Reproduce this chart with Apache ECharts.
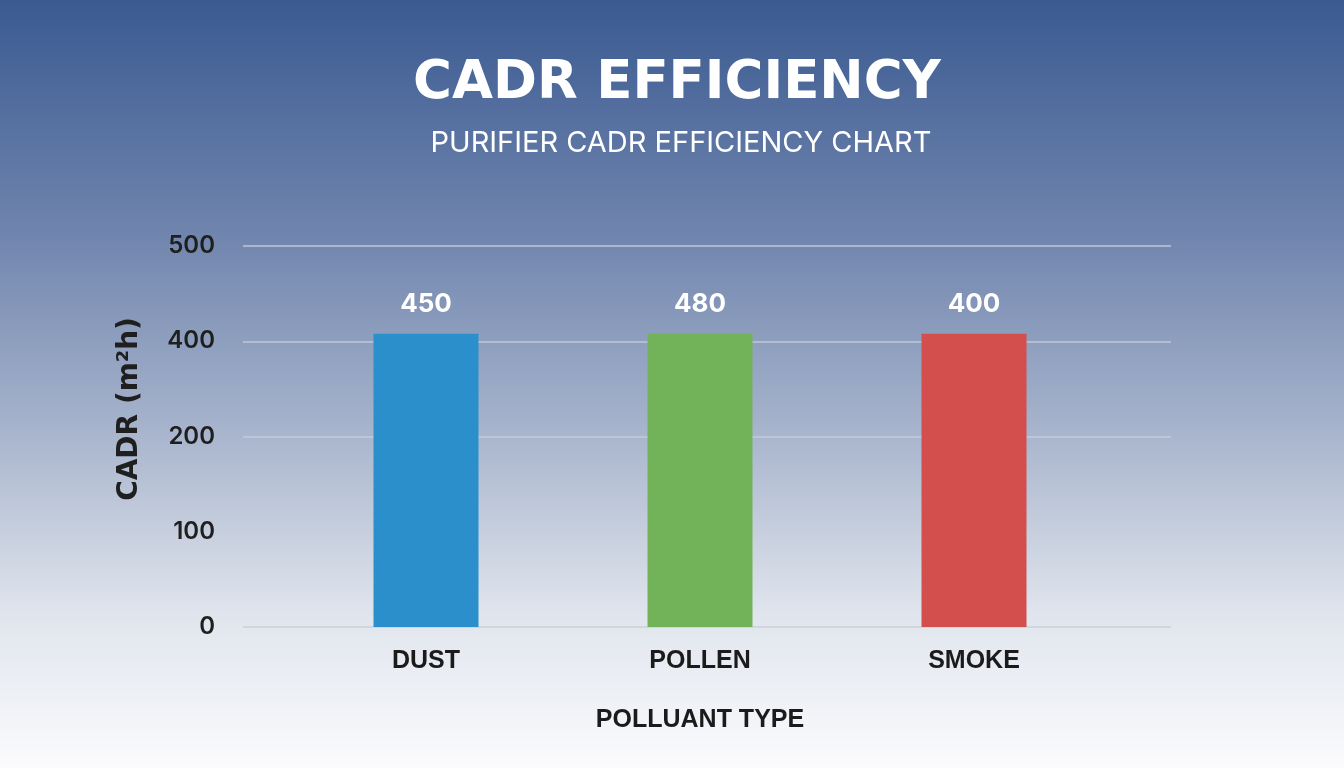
<!DOCTYPE html>
<html>
<head>
<meta charset="utf-8">
<title>CADR Efficiency</title>
<script src="https://cdn.jsdelivr.net/npm/echarts@6/dist/echarts.min.js"></script>
<style>
  html, body { margin: 0; padding: 0; }
  #main { width: 1344px; height: 768px; }
</style>
</head>
<body>
<div id="main"></div>
<script>
// pollutant categories
var categories = ['DUST', 'POLLEN', 'SMOKE'];
// values printed above the bars
var cadrLabels = [450, 480, 400];
// bar heights as drawn (all reach just above the "400" line)
var barHeights = [308, 308, 308];
// the y axis labels skip 300 - gridlines are evenly spaced
var tickLabels = ['0', '100', '200', '400', '500'];
var barColors = ['#2b8fcc', '#72b35a', '#d24f4e'];

var chart = echarts.init(document.getElementById('main'));

var option = {
  backgroundColor: {
    type: 'linear', x: 0, y: 0, x2: 0, y2: 1,
    colorStops: [
      { offset: 0, color: '#3a5a91' },
      { offset: 0.3, color: '#6f84ad' },
      { offset: 0.55, color: '#a5b2cb' },
      { offset: 0.8, color: '#e0e5ed' },
      { offset: 1, color: '#fbfbfd' }
    ]
  },
  title: [
    {
      text: 'CADR EFFICIENCY',
      left: 672, top: 53, textAlign: 'center',
      textStyle: { color: '#ffffff', fontSize: 53, fontWeight: 'bold', fontFamily: 'DejaVu Sans' }
    },
    {
      text: 'PURIFIER CADR EFFICIENCY CHART',
      left: 676, top: 124, textAlign: 'center',
      textStyle: { color: '#ffffff', fontSize: 29, fontWeight: 'normal', fontFamily: 'Inter' }
    }
  ],
  graphic: [{
    type: 'text',
    x: 130, y: 409, rotation: Math.PI / 2,
    style: {
      text: 'CADR (m\u00b2h)',
      fill: '#1f1f1f', font: 'bold 28px "DejaVu Sans"',
      align: 'center', verticalAlign: 'middle'
    }
  }],
  grid: [
    // gridlines + y labels
    { left: 243, right: 173, top: 246, bottom: 141 },
    // bars
    { left: 289, right: 233, top: 246, bottom: 141 }
  ],
  xAxis: [
    { type: 'value', gridIndex: 0, show: false },
    {
      type: 'category', gridIndex: 1, data: categories,
      axisLine: { show: false }, axisTick: { show: false },
      axisLabel: {
        margin: 22, color: '#1b1b1b', fontSize: 25, fontWeight: 'bold',
        fontFamily: "'Liberation Sans', sans-serif"
      },
      name: 'POLLUANT TYPE', nameLocation: 'middle', nameGap: 81,
      nameTextStyle: {
        color: '#1b1b1b', fontSize: 25, fontWeight: 'bold',
        fontFamily: "'Liberation Sans', sans-serif"
      }
    }
  ],
  yAxis: [
    {
      type: 'value', gridIndex: 0, min: 0, max: 400, interval: 100,
      axisLine: { show: false }, axisTick: { show: false },
      splitLine: { lineStyle: { color: 'rgba(200,205,215,0.9)', width: 1.5 } },
      axisLabel: {
        margin: 28, color: '#1f1f1f', fontSize: 24, fontFamily: 'Inter', fontWeight: 600,
        formatter: function (v) { return tickLabels[Math.round(v / 100)]; }
      }
    },
    { type: 'value', gridIndex: 1, min: 0, max: 400, show: false }
  ],
  series: [{
    type: 'bar',
    xAxisIndex: 1, yAxisIndex: 1,
    barWidth: 105,
    data: barHeights.map(function (h, i) {
      return { value: h, itemStyle: { color: barColors[i] } };
    }),
    label: {
      show: true, position: 'top', distance: 16,
      color: '#ffffff', fontSize: 26, fontWeight: 'bold', fontFamily: 'Inter',
      formatter: function (p) { return cadrLabels[p.dataIndex]; }
    }
  }]
};

chart.setOption(option);
</script>
</body>
</html>
